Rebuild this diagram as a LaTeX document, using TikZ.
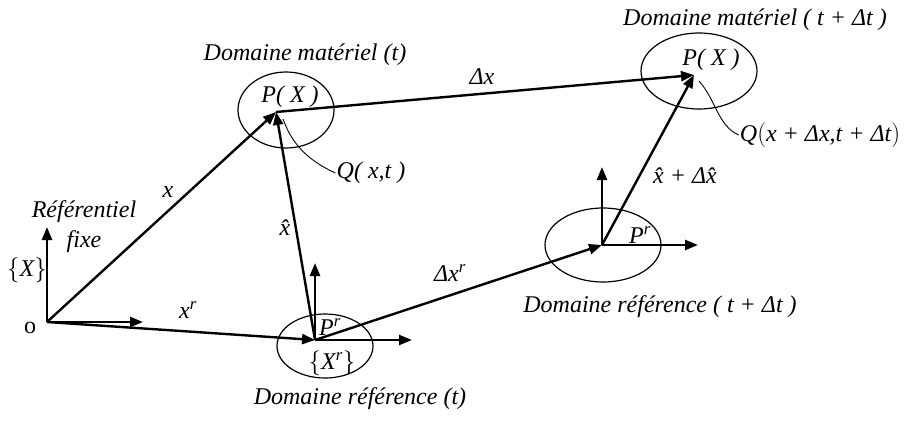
\documentclass[tikz,border=0pt]{standalone}
\usepackage{fontspec}
\setmainfont{Liberation Serif}
\usetikzlibrary{arrows.meta,positioning,shapes.geometric}
\tikzset{
vecarrow/.style={-{Triangle[length=13pt,width=10pt]}, line width=2.4pt},
axisarrow/.style={-{Triangle[length=13pt,width=10pt]}, line width=2.4pt},
domainellipse/.style={draw, ellipse, line width=1.2pt, inner sep=0pt},
leaderline/.style={line width=0.9pt},
lbl/.style={font=\fontsize{24}{30}\selectfont\itshape, inner sep=1pt}
}

\begin{document}
\begin{tikzpicture}[x=1pt,y=-1pt]
\useasboundingbox (0,0) rectangle (904,421);
\node[domainellipse, minimum width=96pt, minimum height=76pt] (ellmt) at (286,110) {};
\node[domainellipse, minimum width=116pt, minimum height=76pt] (ellmtt) at (699,71) {};
\node[domainellipse, minimum width=96pt, minimum height=64pt] (ellrt) at (325,346) {};
\node[domainellipse, minimum width=116pt, minimum height=74pt] (ellrtt) at (603,245) {};

\coordinate (O) at (47,322);
\coordinate (Oup) at (47,227);
\coordinate (Oright) at (143,322);
\coordinate (P) at (276,112);
\coordinate (Pfoot) at (283,119);
\coordinate (Pr) at (315,340);
\coordinate (Prup) at (315,263);
\coordinate (Prright) at (412,340);
\coordinate (Prt) at (602,245);
\coordinate (Prtup) at (602,167);
\coordinate (Prtright) at (698,245);
\coordinate (Pt) at (694,75);
\coordinate (Ptfoot) at (699,81);

\draw[axisarrow] (O) -- (Oup);
\draw[axisarrow] (O) -- (Oright);
\draw[axisarrow] (Pr) -- (Prup);
\draw[axisarrow] (Pr) -- (Prright);
\draw[axisarrow] (Prt) -- (Prtup);
\draw[axisarrow] (Prt) -- (Prtright);

\draw[vecarrow] (O) -- (P);
\draw[vecarrow] (O) -- (Pr);
\draw[vecarrow] (Pr) -- (P);
\draw[vecarrow] (P) -- (Pt);
\draw[vecarrow] (Pr) -- (Prt);
\draw[vecarrow] (Prt) -- (Pt);

\node[lbl] (lblO) at (30,328) {\upshape o};
\node[lbl, align=center] (lblref) at (84,227) {Référentiel\\fixe};
\node[lbl] (lblX) at (27,270) {$\Bigl\{$X$\Bigr\}$};
\node[lbl] (lblx) at (168,192) {x};
\node[lbl] (lblxr) at (188,310) {x\textsuperscript{r}};
\node[lbl] (lblxh) at (285,228) {\^{x}};
\node[lbl] (lbldx) at (482,77) {Δx};
\node[lbl] (lbldxr) at (450,273) {Δx\textsuperscript{r}};
\node[lbl] (lblxhdx) at (685,176) {\^{x} + Δ\^{x}};
\node[lbl] (lblPX) at (290,97) {P( X )};
\node[lbl] (lblPXt) at (711,60) {P( X )};
\node[lbl] (lblQ) at (371,173) {Q( x,t )};
\node[lbl] (lblQt) at (820,135) {Q$\bigl($x + Δx,t + Δt$\bigr)$};
\node[lbl] (lblPr) at (330,327) {P\textsuperscript{r}};
\node[lbl] (lblPrt) at (640,235) {P\textsuperscript{r}};
\node[lbl] (lblXr) at (332,363) {$\Bigl\{$X\textsuperscript{r}$\Bigr\}$};
\node[lbl] (dmt) at (305,55) {Domaine matériel (t)};
\node[lbl] (dmtt) at (755,20) {Domaine matériel ( t + Δt )};
\node[lbl] (drt) at (360,399) {Domaine référence (t)};
\node[lbl] (drtt) at (660,307) {Domaine référence ( t + Δt )};

\draw[leaderline] (lblQ.west) .. controls (302,158) and (290,138) .. (Pfoot);
\draw[leaderline] (lblQt.west) .. controls (718,126) and (716,100) .. (Ptfoot);
\end{tikzpicture}
\end{document}
